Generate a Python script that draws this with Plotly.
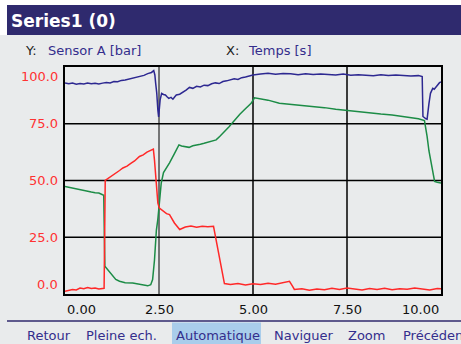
import plotly.graph_objects as go

# ---------------- data ----------------
blue_t = [0.0, 0.1, 0.2, 0.3, 0.4, 0.5, 0.6, 0.7, 0.8, 0.9, 1.0, 1.1, 1.2, 1.3, 1.4, 1.5, 1.6,
          1.7, 1.8, 1.9, 2.0, 2.1, 2.2, 2.3, 2.36, 2.39, 2.41, 2.44, 2.47, 2.49, 2.53, 2.57, 2.62,
          2.67, 2.72, 2.76, 2.82, 2.87, 2.92, 2.96, 3.05, 3.13, 3.22, 3.31, 3.4, 3.5, 3.6, 3.7,
          3.8, 3.9, 4.0, 4.1, 4.2, 4.3, 4.4, 4.5, 4.6, 4.7, 4.8, 4.9, 5.0, 5.2, 5.4, 5.6, 5.8,
          6.0, 6.2, 6.4, 6.6, 6.8, 7.0, 7.2, 7.4, 7.6, 7.8, 8.0, 8.2, 8.4, 8.6, 8.8, 9.0, 9.2,
          9.4, 9.5, 9.52, 9.56, 9.6, 9.63, 9.66, 9.68, 9.72, 9.75, 9.78, 9.82, 9.87, 9.92, 9.96, 10.0]
blue_v = [93.0, 92.6, 92.9, 92.4, 92.7, 92.5, 92.9, 92.6, 92.8, 92.5, 92.9, 93.2, 93.0, 93.6, 93.5,
          94.1, 94.3, 94.7, 94.9, 95.4, 95.9, 96.3, 97.1, 97.6, 98.4, 96.5, 93.0, 88.6, 81.0, 78.0,
          85.5, 88.4, 87.9, 87.7, 86.8, 86.2, 86.6, 85.8, 86.9, 87.7, 88.0, 88.7, 89.8, 91.0, 90.6,
          91.5, 91.2, 92.0, 91.8, 92.6, 93.0, 92.7, 93.6, 93.9, 94.3, 94.8, 94.5, 95.3, 95.6, 96.1,
          96.5, 96.9, 97.2, 96.8, 97.1, 97.0, 96.6, 97.0, 96.7, 96.9, 96.8, 96.5, 96.9, 96.4, 96.6,
          96.5, 96.2, 96.6, 96.3, 96.5, 96.3, 96.0, 96.2, 95.8, 78.2, 77.5, 77.2, 77.0, 80.0, 84.0,
          88.4, 89.6, 90.6, 90.2, 91.3, 92.0, 93.1, 93.4]

green_t = [0.0, 0.1, 0.2, 0.3, 0.4, 0.5, 0.6, 0.7, 0.8, 0.9, 1.0, 1.03, 1.06, 1.1, 1.2, 1.28,
           1.35, 1.45, 1.6, 1.8, 2.0, 2.1, 2.2, 2.28, 2.33, 2.38, 2.43, 2.47, 2.5, 2.53, 2.56,
           2.62, 2.7, 2.78, 2.9, 3.03, 3.1, 3.2, 3.3, 3.4, 3.5, 3.6, 3.7, 3.8, 3.9, 4.02, 4.12,
           4.25, 4.37, 4.46, 4.55, 4.65, 4.75, 4.85, 4.95, 5.04, 5.2, 5.4, 5.7, 6.0, 6.3, 6.6,
           6.9, 7.2, 7.5, 7.8, 8.1, 8.4, 8.7, 9.0, 9.2, 9.4, 9.56, 9.6, 9.63, 9.68, 9.74, 9.79,
           9.83, 9.9, 10.0]
green_v = [47.4, 47.0, 46.6, 46.4, 45.9, 45.7, 45.2, 44.9, 44.6, 44.5, 43.7, 43.5, 12.2, 11.4,
           9.4, 7.6, 6.4, 5.6, 5.0, 4.8, 4.2, 3.9, 3.6, 4.1, 6.4, 15.0, 28.0, 33.0, 38.6, 44.0,
           49.0, 53.5, 56.0, 57.8, 61.5, 65.7, 65.2, 65.0, 64.6, 65.3, 65.5, 66.0, 66.4, 66.8,
           67.2, 67.9, 69.5, 71.6, 73.8, 75.6, 77.5, 79.2, 80.8, 82.4, 84.0, 86.4, 86.0, 85.4,
           84.0, 83.6, 83.0, 82.5, 82.1, 81.4, 80.8, 80.4, 79.8, 79.3, 78.9, 78.2, 77.7, 77.2,
           76.4, 73.0, 69.4, 63.0, 57.7, 53.0, 49.6, 49.2, 48.9]

red_t = [0.0, 0.1, 0.2, 0.3, 0.4, 0.5, 0.6, 0.7, 0.8, 0.9, 1.0, 1.04, 1.07, 1.15, 1.25, 1.35,
         1.45, 1.54, 1.65, 1.75, 1.85, 1.98, 2.08, 2.18, 2.28, 2.35, 2.38, 2.42, 2.47, 2.51,
         2.6, 2.7, 2.78, 2.85, 2.91, 3.05, 3.2, 3.35, 3.5, 3.65, 3.8, 3.95, 4.04, 4.15, 4.24,
         4.4, 4.6, 4.8, 5.0, 5.2, 5.4, 5.6, 5.8, 5.97, 6.05, 6.1, 6.3, 6.5, 6.7, 6.9, 7.1, 7.3,
         7.5, 7.7, 7.9, 8.1, 8.3, 8.5, 8.7, 8.9, 9.1, 9.3, 9.5, 9.7, 9.9, 10.0]
red_v = [1.2, 1.5, 2.0, 1.8, 2.6, 2.3, 2.9, 2.4, 2.6, 2.2, 2.4, 2.5, 50.0, 51.0, 52.3, 53.2,
         54.4, 55.5, 56.3, 57.5, 58.6, 60.6, 61.3, 62.5, 63.2, 63.8, 59.0, 51.8, 40.0, 37.9,
         36.6, 35.4, 35.0, 33.0, 31.3, 28.4, 29.5, 29.9, 29.4, 29.8, 29.6, 29.8, 22.5, 12.2,
         4.6, 4.2, 4.6, 4.0, 4.5, 4.2, 4.7, 4.3, 4.9, 5.6, 3.5, 2.0, 2.3, 1.7, 2.2, 1.9, 2.5,
         2.0, 2.6, 2.2, 1.8, 2.4, 2.0, 2.5, 1.9, 2.3, 2.1, 2.6, 2.2, 1.8, 2.4, 2.3]

y_ticks = [0, 25, 50, 75, 100]
y_tick_labels = ["0.0", "25.0", "50.0", "75.0", "100.0"]
x_ticks = [0, 2.5, 5, 7.5, 10]
x_tick_labels = ["0.00", "2.50", "5.00", "7.50", "10.00"]
buttons = ["Retour", "Pleine ech.", "Automatique", "Naviguer", "Zoom", "Précédent"]
button_x = [26, 85, 175, 273, 347, 402]

# ---------------- style ----------------
W, H = 461, 344
ML, MR, MT, MB = 65, 20, 67, 50
PW, PH = W - ML - MR, H - MT - MB
BG = "#e9ebec"
NAVY = "rgb(47,42,110)"
TXTBLUE = "rgb(52,46,140)"
FONT = "DejaVu Sans"


def px(x):
    return (x - ML) / PW


def py(y):
    return (H - MB - y) / PH


fig = go.Figure()
fig.add_trace(go.Scatter(x=green_t, y=green_v, mode="lines",
                         line=dict(color="rgb(28,140,70)", width=1.5), hoverinfo="skip"))
fig.add_trace(go.Scatter(x=red_t, y=red_v, mode="lines",
                         line=dict(color="rgb(255,40,40)", width=1.5), hoverinfo="skip"))
fig.add_trace(go.Scatter(x=blue_t, y=blue_v, mode="lines",
                         line=dict(color="rgb(45,40,145)", width=1.5), hoverinfo="skip"))

shapes = []
# header white strip and title bar
shapes.append(dict(type="rect", xref="paper", yref="paper", x0=px(0), x1=px(W), y0=py(0), y1=py(35),
                   fillcolor="white", line_width=0, layer="below"))
shapes.append(dict(type="rect", xref="paper", yref="paper", x0=px(7), x1=px(W), y0=py(5), y1=py(35),
                   fillcolor=NAVY, line_width=0, layer="below"))
# bottom separator line
shapes.append(dict(type="line", xref="paper", yref="paper", x0=px(7), x1=px(W), y0=py(321), y1=py(321),
                   line=dict(color=NAVY, width=1.5)))
# highlighted button
shapes.append(dict(type="rect", xref="paper", yref="paper", x0=px(172), x1=px(261), y0=py(322.5), y1=py(345),
                   fillcolor="#a9cdeb", line_width=0, layer="below"))
# grid lines
for v in y_ticks[1:-1]:
    shapes.append(dict(type="line", xref="paper", yref="y", x0=0, x1=1, y0=v, y1=v,
                       line=dict(color="black", width=1.5), layer="below"))
for v in x_ticks[1:-1]:
    shapes.append(dict(type="line", xref="x", yref="paper", x0=v, x1=v, y0=0, y1=1,
                       line=dict(color="black", width=1 if v == 2.5 else 1.5), layer="below"))

ann = []
ann.append(dict(text="<b>Series1 (0)</b>", xref="paper", yref="paper", x=px(9), y=py(21),
                xanchor="left", yanchor="middle", showarrow=False,
                font=dict(family=FONT, size=17, color="white")))
ann.append(dict(text="Y:", xref="paper", yref="paper", x=px(23), y=py(51), xanchor="left",
                yanchor="middle", showarrow=False, font=dict(family=FONT, size=13, color="#222")))
ann.append(dict(text="Sensor A [bar]", xref="paper", yref="paper", x=px(46), y=py(51), xanchor="left",
                yanchor="middle", showarrow=False, font=dict(family=FONT, size=13, color=TXTBLUE)))
ann.append(dict(text="X:", xref="paper", yref="paper", x=px(224), y=py(51), xanchor="left",
                yanchor="middle", showarrow=False, font=dict(family=FONT, size=13, color="#222")))
ann.append(dict(text="Temps [s]", xref="paper", yref="paper", x=px(246), y=py(51), xanchor="left",
                yanchor="middle", showarrow=False, font=dict(family=FONT, size=13, color=TXTBLUE)))

for v, lab in zip(y_ticks, y_tick_labels):
    anchor = "top" if v == y_ticks[-1] else ("bottom" if v == y_ticks[0] else "middle")
    ann.append(dict(text=lab, xref="paper", yref="y", x=0, y=v, xanchor="right", yanchor=anchor,
                    xshift=-5, showarrow=False, font=dict(family=FONT, size=13, color="rgb(255,50,50)")))
for v, lab in zip(x_ticks, x_tick_labels):
    anchor = "left" if v == x_ticks[0] else ("right" if v == x_ticks[-1] else "center")
    ann.append(dict(text=lab, xref="x", yref="paper", x=v, y=0, xanchor=anchor, yanchor="top",
                    yshift=-6, showarrow=False, font=dict(family=FONT, size=13, color="#111")))
for b, bx in zip(buttons, button_x):
    ann.append(dict(text=b, xref="paper", yref="paper", x=px(bx - 1), y=py(335), xanchor="left",
                    yanchor="middle", showarrow=False, font=dict(family=FONT, size=13, color=TXTBLUE)))

fig.update_layout(
    width=W, height=H, margin=dict(l=ML, r=MR, t=MT, b=MB),
    paper_bgcolor=BG, plot_bgcolor=BG, showlegend=False,
    shapes=shapes, annotations=ann,
    xaxis=dict(range=[0, 10], showgrid=False, zeroline=False, showticklabels=False, ticks="",
               showline=True, mirror=True, linecolor="black", linewidth=1.5, fixedrange=True),
    yaxis=dict(range=[0, 100], showgrid=False, zeroline=False, showticklabels=False, ticks="",
               showline=True, mirror=True, linecolor="black", linewidth=1.5, fixedrange=True),
)

fig.write_html("out.html", config=dict(displayModeBar=False),
               post_script="document.body.style.margin='0';document.body.style.padding='0';"
                           "document.body.style.overflow='hidden';")
